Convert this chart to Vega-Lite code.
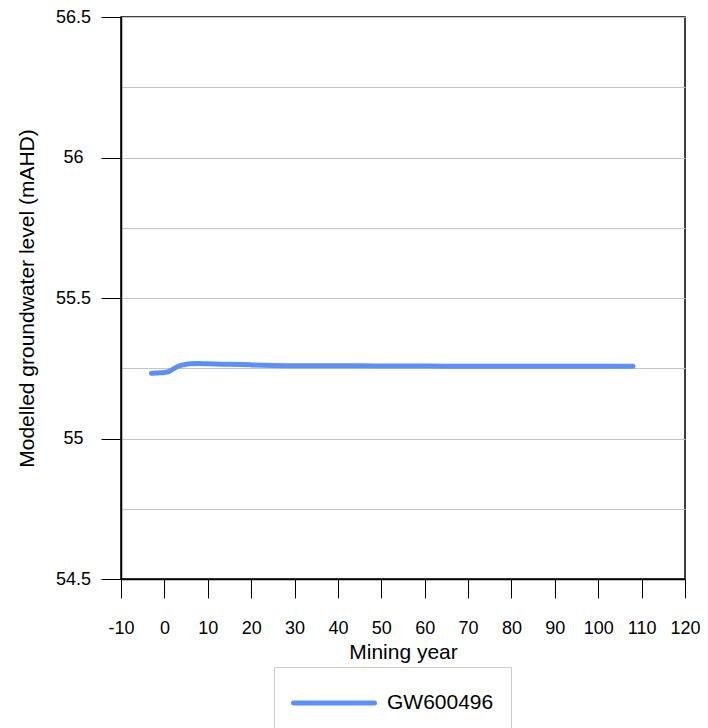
{
  "$schema": "https://vega.github.io/schema/vega-lite/v6.json",
  "width": 564,
  "height": 562,
  "autosize": {"type": "none"},
  "padding": {"left": 121, "top": 17, "right": 23, "bottom": 149},
  "background": "white",
  "config": {
    "font": "Liberation Sans",
    "view": {"stroke": "black", "strokeWidth": 1.5}
  },
  "data": {
    "values": [
      {"year": -3, "level": 55.232, "series": "GW600496"},
      {"year": -2, "level": 55.233, "series": "GW600496"},
      {"year": -1, "level": 55.234, "series": "GW600496"},
      {"year": 0, "level": 55.235, "series": "GW600496"},
      {"year": 1, "level": 55.238, "series": "GW600496"},
      {"year": 2, "level": 55.247, "series": "GW600496"},
      {"year": 3, "level": 55.255, "series": "GW600496"},
      {"year": 4, "level": 55.261, "series": "GW600496"},
      {"year": 5, "level": 55.264, "series": "GW600496"},
      {"year": 6, "level": 55.266, "series": "GW600496"},
      {"year": 8, "level": 55.267, "series": "GW600496"},
      {"year": 10, "level": 55.266, "series": "GW600496"},
      {"year": 15, "level": 55.264, "series": "GW600496"},
      {"year": 20, "level": 55.262, "series": "GW600496"},
      {"year": 25, "level": 55.260, "series": "GW600496"},
      {"year": 30, "level": 55.259, "series": "GW600496"},
      {"year": 40, "level": 55.259, "series": "GW600496"},
      {"year": 50, "level": 55.258, "series": "GW600496"},
      {"year": 60, "level": 55.258, "series": "GW600496"},
      {"year": 70, "level": 55.257, "series": "GW600496"},
      {"year": 80, "level": 55.257, "series": "GW600496"},
      {"year": 90, "level": 55.257, "series": "GW600496"},
      {"year": 100, "level": 55.257, "series": "GW600496"},
      {"year": 108, "level": 55.257, "series": "GW600496"}
    ]
  },
  "mark": {"type": "line", "strokeWidth": 5, "strokeCap": "round", "strokeJoin": "round", "interpolate": "monotone"},
  "encoding": {
    "x": {
      "field": "year",
      "type": "quantitative",
      "scale": {"domain": [-10, 120], "nice": false, "zero": false},
      "axis": {
        "title": "Mining year",
        "values": [-10, 0, 10, 20, 30, 40, 50, 60, 70, 80, 90, 100, 110, 120],
        "labelExpr": "datum.value < 0 ? '-' + abs(datum.value) : datum.label",
        "grid": false,
        "domain": true,
        "domainColor": "black",
        "domainWidth": 1.5,
        "tickColor": "black",
        "tickSize": 19,
        "tickWidth": 1,
        "labelFontSize": 18,
        "labelColor": "black",
        "labelBaseline": "middle",
        "labelPadding": 30,
        "labelFlush": false,
        "labelOverlap": false,
        "titleFontSize": 21,
        "titleFontWeight": "normal",
        "titleColor": "black",
        "titleBaseline": "alphabetic",
        "titleY": 79
      }
    },
    "y": {
      "field": "level",
      "type": "quantitative",
      "scale": {"domain": [54.5, 56.5], "nice": false, "zero": false},
      "axis": {
        "title": "Modelled groundwater level (mAHD)",
        "values": [54.5, 54.75, 55, 55.25, 55.5, 55.75, 56, 56.25, 56.5],
        "format": "~g",
        "labelExpr": "round(datum.value*4) % 2 == 1 ? '' : datum.label",
        "grid": true,
        "gridColor": "#c4c4c4",
        "gridWidth": 1,
        "domain": true,
        "domainColor": "black",
        "domainWidth": 1.5,
        "tickColor": "black",
        "tickSize": 20,
        "tickWidth": 1,
        "tickOpacity": {"condition": {"test": "round(datum.value*4) % 2 == 1", "value": 0}, "value": 1},
        "labelFontSize": 18,
        "labelColor": "black",
        "labelAlign": "center",
        "labelBaseline": "middle",
        "labelPadding": 28,
        "labelFlush": false,
        "labelOverlap": false,
        "titleFontSize": 21,
        "titleFontWeight": "normal",
        "titleColor": "black",
        "titleAngle": -90,
        "titleBaseline": "middle",
        "titleAlign": "center",
        "titleX": -94,
        "titleY": 281
      }
    },
    "color": {
      "field": "series",
      "type": "nominal",
      "scale": {"range": ["#5b8ff9"]},
      "legend": {
        "title": null,
        "orient": "none",
        "legendX": 153,
        "legendY": 650,
        "padding": 17,
        "strokeColor": "#cccccc",
        "fillColor": "white",
        "symbolType": "M-2.4545,0H2.4545",
        "symbolSize": 1089,
        "symbolStrokeWidth": 5,
        "symbolFillColor": "transparent",
        "symbolOffset": 24,
        "labelOffset": 34,
        "labelFontSize": 21,
        "labelColor": "black",
        "labelLimit": 300,
        "encode": {"symbols": {"update": {"strokeCap": {"value": "round"}, "fill": {"value": "transparent"}}}}
      }
    }
  }
}
